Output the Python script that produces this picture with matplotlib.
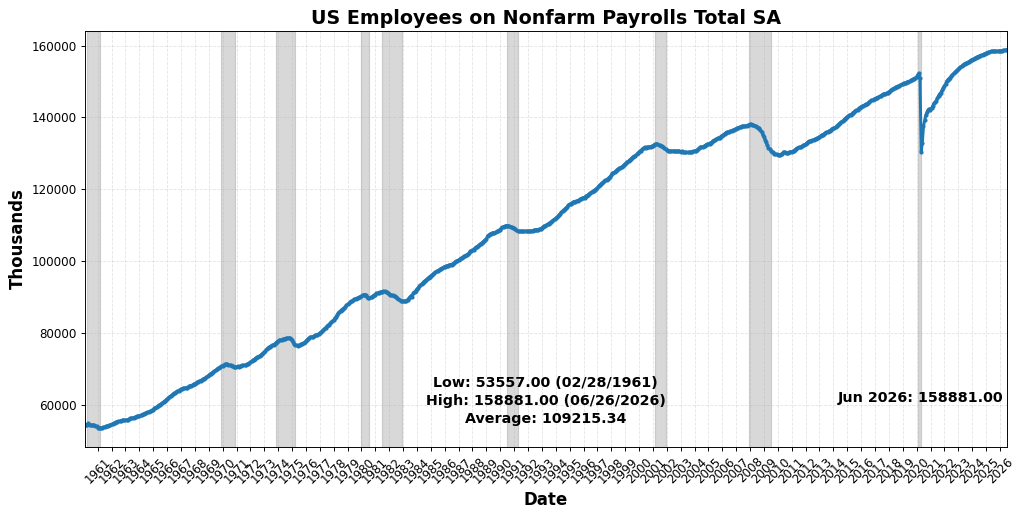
import pandas as pd
import matplotlib.pyplot as plt
import matplotlib.dates as mdates

# monthly values (thousands), Jan 1960 .. Jun 2026
payems = {
    1960: [54300, 54500, 54460, 54800, 54470, 54350, 54300, 54330, 54260, 54160, 53980, 53660],
    1961: [53620, 53557, 53600, 53640, 53760, 53870, 53980, 54100, 54120, 54250, 54400, 54570],
    1962: [54700, 54900, 55020, 55250, 55300, 55360, 55450, 55520, 55620, 55660, 55680, 55680],
    1963: [55800, 55880, 55980, 56180, 56230, 56280, 56420, 56520, 56680, 56830, 56840, 56930],
    1964: [57050, 57200, 57350, 57450, 57600, 57700, 57850, 58000, 58150, 58200, 58450, 58650],
    1965: [59000, 59200, 59400, 59600, 59850, 60050, 60300, 60550, 60800, 61050, 61300, 61600],
    1966: [61900, 62150, 62450, 62650, 62900, 63150, 63350, 63600, 63750, 63950, 64150, 64350],
    1967: [64500, 64600, 64650, 64700, 64800, 64900, 65100, 65300, 65350, 65550, 65750, 65900],
    1968: [66000, 66300, 66400, 66600, 66750, 66950, 67150, 67300, 67450, 67700, 67950, 68200],
    1969: [68450, 68700, 68950, 69150, 69400, 69650, 69850, 70100, 70250, 70500, 70700, 70900],
    1970: [71100, 71250, 71350, 71250, 71100, 71000, 70950, 70850, 70800, 70550, 70450, 70550],
    1971: [70700, 70650, 70700, 70850, 70950, 70950, 71000, 71100, 71300, 71400, 71550, 71800],
    1972: [72100, 72350, 72600, 72850, 73100, 73300, 73400, 73650, 73850, 74150, 74400, 74650],
    1973: [75100, 75450, 75750, 75950, 76200, 76400, 76550, 76750, 76900, 77250, 77500, 77700],
    1974: [77950, 78050, 78100, 78250, 78350, 78450, 78500, 78550, 78600, 78650, 78450, 77900],
    1975: [77400, 76950, 76650, 76550, 76500, 76550, 76700, 76950, 77050, 77250, 77350, 77700],
    1976: [78100, 78400, 78650, 78900, 78950, 79000, 79150, 79300, 79400, 79550, 79750, 80000],
    1977: [80200, 80450, 80850, 81150, 81450, 81800, 82100, 82300, 82700, 82950, 83250, 83550],
    1978: [84100, 84450, 84950, 85450, 85800, 86200, 86500, 86750, 86950, 87300, 87650, 87950],
    1979: [88200, 88500, 88800, 88850, 89100, 89400, 89550, 89650, 89750, 89900, 90050, 90250],
    1980: [90550, 90650, 90700, 90500, 90100, 89800, 89650, 89900, 90000, 90250, 90500, 90650],
    1981: [91000, 91100, 91250, 91350, 91400, 91450, 91600, 91550, 91400, 91400, 91200, 90950],
    1982: [90700, 90600, 90450, 90150, 90200, 89950, 89600, 89450, 89200, 88950, 88850, 88800],
    1983: [88850, 88850, 89000, 89300, 89600, 90000, 90400, 90100, 91200, 91450, 91800, 92150],
    1984: [92550, 93000, 93250, 93600, 93950, 94300, 94550, 94800, 95100, 95400, 95700, 95900],
    1985: [96200, 96400, 96700, 96900, 97200, 97300, 97500, 97700, 97900, 98100, 98300, 98500],
    1986: [98600, 98700, 98750, 98950, 99050, 99000, 99300, 99450, 99750, 99950, 100150, 100350],
    1987: [100500, 100750, 100900, 101200, 101400, 101550, 101800, 101950, 102200, 102700, 102750, 103050],
    1988: [103100, 103550, 103800, 104050, 104250, 104600, 104850, 105000, 105350, 105600, 105900, 106200],
    1989: [107000, 107250, 107450, 107650, 107800, 107900, 107950, 108000, 108250, 108350, 108600, 108700],
    1990: [109100, 109400, 109600, 109700, 109850, 109900, 109850, 109650, 109550, 109400, 109200, 109100],
    1991: [108950, 108650, 108500, 108300, 108250, 108300, 108250, 108250, 108300, 108350, 108250, 108300],
    1992: [108350, 108300, 108350, 108500, 108600, 108650, 108700, 108800, 108800, 109000, 109050, 109250],
    1993: [109550, 109800, 109750, 110050, 110300, 110450, 110750, 110900, 111150, 111400, 111650, 111950],
    1994: [112250, 112450, 112900, 113250, 113600, 113950, 114300, 114550, 114900, 115100, 115550, 115850],
    1995: [115950, 116200, 116400, 116550, 116500, 116750, 116850, 117000, 117250, 117400, 117550, 117650],
    1996: [117650, 118100, 118250, 118450, 118750, 119000, 119250, 119400, 119650, 119900, 120150, 120350],
    1997: [120900, 121150, 121450, 121750, 121950, 122200, 122500, 122650, 122950, 123250, 123550, 123850],
    1998: [124400, 124650, 124800, 125100, 125450, 125650, 125850, 126000, 126250, 126450, 126750, 127050],
    1999: [127400, 127700, 127850, 128200, 128450, 128750, 129050, 129200, 129400, 129750, 130050, 130350],
    2000: [130700, 130800, 131200, 131500, 131700, 131600, 131750, 131700, 131800, 131850, 132000, 132150],
    2001: [132350, 132550, 132600, 132650, 132350, 132200, 132050, 131950, 131700, 131400, 131100, 130900],
    2002: [130800, 130700, 130700, 130650, 130650, 130700, 130600, 130600, 130550, 130650, 130650, 130500],
    2003: [130600, 130450, 130250, 130250, 130250, 130250, 130250, 130250, 130350, 130500, 130550, 130650],
    2004: [130800, 130850, 131150, 131400, 131700, 131800, 131850, 131950, 132100, 132450, 132500, 132650],
    2005: [132750, 133000, 133150, 133500, 133600, 133750, 134050, 134250, 134300, 134400, 134750, 134900],
    2006: [135200, 135450, 135750, 135900, 135950, 136000, 136200, 136350, 136500, 136500, 136700, 136900],
    2007: [137100, 137150, 137350, 137400, 137550, 137600, 137600, 137600, 137750, 137800, 137950, 138050],
    2008: [138100, 138000, 137950, 137750, 137550, 137400, 137200, 136950, 136500, 136000, 135200, 134600],
    2009: [133800, 133050, 132250, 131600, 131250, 130800, 130450, 130250, 129950, 129800, 129800, 129550],
    2010: [129600, 129550, 129700, 129950, 130450, 130300, 130200, 130150, 130100, 130350, 130450, 130500],
    2011: [130550, 130800, 131000, 131350, 131450, 131650, 131700, 131800, 132000, 132200, 132350, 132550],
    2012: [132900, 133150, 133350, 133450, 133550, 133650, 133800, 133950, 134100, 134250, 134400, 134650],
    2013: [134850, 135150, 135250, 135450, 135700, 135850, 135950, 136200, 136350, 136600, 136900, 136950],
    2014: [137100, 137300, 137600, 137950, 138250, 138550, 138800, 138950, 139300, 139600, 139950, 140200],
    2015: [140400, 140650, 140750, 141000, 141350, 141550, 141850, 142000, 142150, 142500, 142750, 143000],
    2016: [143100, 143300, 143550, 143700, 143750, 144000, 144350, 144500, 144750, 144900, 145050, 145250],
    2017: [145400, 145550, 145650, 145850, 146000, 146250, 146400, 146600, 146600, 146750, 146950, 147150],
    2018: [147300, 147650, 147800, 148000, 148300, 148500, 148600, 148750, 148850, 149050, 149200, 149350],
    2019: [149550, 149550, 149700, 149950, 150000, 150150, 150350, 150500, 150700, 150850, 151050, 151300],
    2020: [151900, 152300, 150900, 130400, 133000, 137600, 139200, 140700, 141400, 142100, 142400, 142200],
    2021: [142600, 143200, 143900, 144200, 144700, 145300, 146100, 146600, 146950, 147550, 148200, 148800],
    2022: [149300, 150050, 150500, 150800, 151100, 151450, 151950, 152250, 152550, 152850, 153100, 153400],
    2023: [153800, 154100, 154300, 154550, 154800, 155000, 155150, 155300, 155550, 155700, 155900, 156100],
    2024: [156200, 156400, 156700, 156800, 156950, 157050, 157200, 157300, 157450, 157600, 157800, 157900],
    2025: [158050, 158150, 158250, 158400, 158450, 158400, 158450, 158400, 158450, 158400, 158500, 158550],
    2026: [158550, 158600, 158650, 158700, 158800, 158881],
}

recessions = [('1960-04-01', '1961-02-28'), ('1969-12-01', '1970-11-30'),
              ('1973-11-01', '1975-03-31'), ('1980-01-01', '1980-07-31'),
              ('1981-07-01', '1982-11-30'), ('1990-07-01', '1991-03-31'),
              ('2001-03-01', '2001-11-30'), ('2007-12-01', '2009-06-30'),
              ('2020-02-01', '2020-04-30')]

stats_text = 'Low: 53557.00 (02/28/1961)\nHigh: 158881.00 (06/26/2026)\nAverage: 109215.34'
last_text = 'Jun 2026: 158881.00'

values = [v for yr in sorted(payems) for v in payems[yr]]
dates = pd.date_range('1960-01-31', periods=len(values), freq='ME')
dates = dates[:-1].append(pd.DatetimeIndex(['2026-06-26']))
df = pd.DataFrame({'date': dates, 'value': values})

fig, ax = plt.subplots(figsize=(12, 6.012), dpi=1024 / 12)
fig.subplots_adjust(left=0.083, right=0.983, top=0.94, bottom=0.129)

for start, end in recessions:
    ax.axvspan(pd.Timestamp(start), pd.Timestamp(end), color='gray', alpha=0.3)

ax.plot(df['date'], df['value'], color='#1f77b4', linewidth=2.5,
        marker='o', markersize=2.5)

ax.set_xlim(df['date'].iloc[0], df['date'].iloc[-1])
ax.xaxis.set_major_locator(mdates.YearLocator())
ax.xaxis.set_major_formatter(mdates.DateFormatter('%Y'))
plt.setp(ax.get_xticklabels(), rotation=45)

ax.set_title('US Employees on Nonfarm Payrolls Total SA', fontsize=16, fontweight='bold')
ax.set_xlabel('Date', fontsize=14, fontweight='bold')
ax.set_ylabel('Thousands', fontsize=14, fontweight='bold')
ax.grid(True, linestyle='--', linewidth=0.7, alpha=0.35)

ax.text(0.5, 0.05, stats_text, transform=ax.transAxes, ha='center', va='bottom',
        fontsize=12, fontweight='bold', linespacing=1.35)
ax.text(0.997, 0.1, last_text, transform=ax.transAxes, ha='right', va='bottom',
        fontsize=12, fontweight='bold')

plt.savefig('out.png')
